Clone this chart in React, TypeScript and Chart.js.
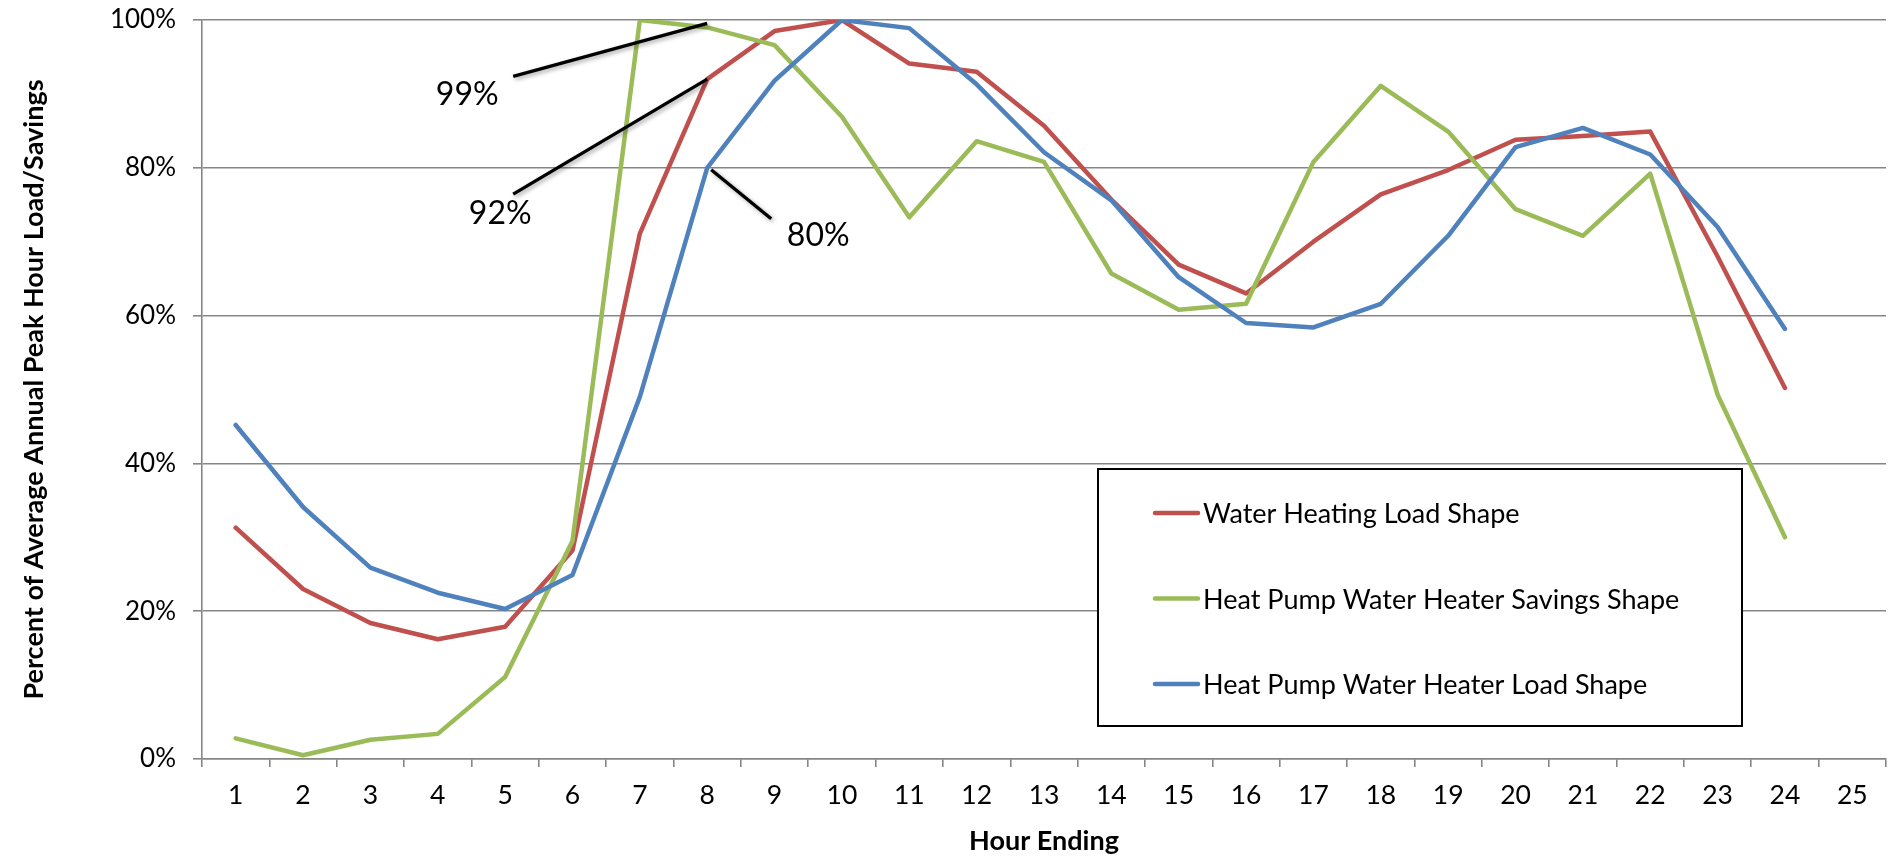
import React, { useEffect, useRef } from 'react';
import { Chart, registerables } from 'chart.js';

Chart.register(...registerables);

// ---------- data ----------
const HOURS = ['1', '2', '3', '4', '5', '6', '7', '8', '9', '10', '11', '12', '13', '14', '15', '16', '17', '18', '19', '20', '21', '22', '23', '24', '25'];

const WATER_HEATING_LOAD = [31.3, 23.0, 18.4, 16.2, 17.9, 28.2, 71.1, 92.0, 98.5, 100, 94.1, 93.0, 85.7, 75.7, 66.9, 63.0, 70.0, 76.4, 79.7, 83.8, 84.3, 84.9, 68.0, 50.2];
const HPWH_SAVINGS = [2.8, 0.5, 2.6, 3.4, 11.1, 29.5, 100, 99.0, 96.6, 86.9, 73.3, 83.6, 80.8, 65.7, 60.8, 61.6, 80.8, 91.1, 84.9, 74.4, 70.8, 79.2, 49.3, 30.0];
const HPWH_LOAD = [45.2, 34.1, 25.9, 22.5, 20.3, 24.9, 49.0, 80.0, 91.8, 100, 98.9, 91.3, 82.1, 75.6, 65.2, 59.0, 58.4, 61.6, 70.8, 82.8, 85.4, 81.8, 72.0, 58.2];

const SERIES_LABELS = ['Water Heating Load Shape', 'Heat Pump Water Heater Savings Shape', 'Heat Pump Water Heater Load Shape'];
const SERIES_COLORS = ['#C0504D', '#9BBB59', '#4F81BD'];

const Y_MIN = 0;
const Y_MAX = 100;
const Y_STEP = 20;

// callouts: which point they point at (dataset, index)
const CALLOUT_DATASET = [1, 0, 2];
const CALLOUT_INDEX = [7, 7, 7];

// ---------- styling ----------
const FONT = 'Lato, "Open Sans", sans-serif';
const GRID = '#868686';

// callout geometry (pixel offsets from the anchored point)
const CALLOUT_STYLE = [
  { start: [0, -4], end: [-194, 49], label: [-240, 66] },
  { start: [0, 0], end: [-194, 115], label: [-207, 134] },
  { start: [4, 2], end: [64, 51], label: [111, 67] },
];

const LEGEND_BOX = { left: 1098, top: 469, right: 1742, bottom: 726, firstRow: 44, rowGap: 85.5, sample0: 1155, sample1: 1198, textX: 1203 };

const calloutPlugin = {
  id: 'callouts',
  afterDatasetsDraw(chart: any) {
    const ctx = chart.ctx;
    ctx.save();
    CALLOUT_DATASET.forEach((ds, i) => {
      const meta = chart.getDatasetMeta(ds);
      const idx = CALLOUT_INDEX[i];
      const pt = meta.data[idx];
      if (!pt) return;
      const st = CALLOUT_STYLE[i];
      const value = chart.data.datasets[ds].data[idx] as number;
      ctx.save();
      ctx.shadowColor = 'rgba(0,0,0,0.35)';
      ctx.shadowBlur = 4;
      ctx.shadowOffsetX = 2;
      ctx.shadowOffsetY = 2;
      ctx.strokeStyle = '#000';
      ctx.lineWidth = 3.4;
      ctx.beginPath();
      ctx.moveTo(pt.x + st.start[0], pt.y + st.start[1]);
      ctx.lineTo(pt.x + st.end[0], pt.y + st.end[1]);
      ctx.stroke();
      ctx.restore();
      ctx.fillStyle = '#000';
      ctx.font = `32px ${FONT}`;
      ctx.textAlign = 'center';
      ctx.textBaseline = 'middle';
      ctx.fillText(`${Math.round(value)}%`, pt.x + st.label[0], pt.y + st.label[1] + 1);
    });
    ctx.restore();
  },
};

const boxLegendPlugin = {
  id: 'boxLegend',
  afterDatasetsDraw(chart: any) {
    const ctx = chart.ctx;
    const b = LEGEND_BOX;
    ctx.save();
    ctx.fillStyle = '#fff';
    ctx.fillRect(b.left, b.top, b.right - b.left, b.bottom - b.top);
    ctx.strokeStyle = '#000';
    ctx.lineWidth = 2;
    ctx.strokeRect(b.left, b.top, b.right - b.left, b.bottom - b.top);
    chart.data.datasets.forEach((ds: any, i: number) => {
      const y = b.top + b.firstRow + i * b.rowGap;
      ctx.strokeStyle = ds.borderColor;
      ctx.lineWidth = 4.5;
      ctx.lineCap = 'round';
      ctx.beginPath();
      ctx.moveTo(b.sample0, y);
      ctx.lineTo(b.sample1, y);
      ctx.stroke();
      ctx.fillStyle = '#000';
      ctx.font = `27px ${FONT}`;
      ctx.textAlign = 'left';
      ctx.textBaseline = 'middle';
      ctx.fillText(ds.label, b.textX, y + 1.5);
    });
    ctx.restore();
  },
};

export default function App() {
  const ref = useRef<HTMLCanvasElement>(null);
  useEffect(() => {
    document.body.style.margin = '0';
    const datasets = [WATER_HEATING_LOAD, HPWH_SAVINGS, HPWH_LOAD].map((d, i) => ({
      label: SERIES_LABELS[i],
      data: d,
      borderColor: SERIES_COLORS[i],
      backgroundColor: SERIES_COLORS[i],
      borderWidth: 4.5,
      pointRadius: 0,
      tension: 0,
      fill: false,
      borderJoinStyle: 'round' as const,
      borderCapStyle: 'round' as const,
      order: 2 - i,
    }));
    const chart = new Chart(ref.current!, {
      type: 'line',
      data: { labels: HOURS, datasets },
      options: {
        animation: false,
        responsive: false,
        maintainAspectRatio: false,
        layout: { padding: { top: 20, right: 12, left: 0, bottom: 0 } },
        plugins: { legend: { display: false }, tooltip: { enabled: false } },
        scales: {
          x: {
            type: 'category',
            offset: true,
            grid: { offset: true, drawOnChartArea: false, drawTicks: true, tickLength: 8, color: GRID, lineWidth: 1.6 },
            border: { display: true, color: GRID, width: 1.6 },
            ticks: { color: '#000', font: { family: FONT, size: 26.5 }, padding: 13, maxRotation: 0, autoSkip: false },
            title: { display: true, text: 'Hour Ending', color: '#000', font: { family: FONT, size: 27, weight: 'bold' }, padding: { top: 0, bottom: 0 } },
            afterFit: (s: any) => { s.height = 98; s.paddingLeft = 0; s.paddingRight = 0; },
          },
          y: {
            min: Y_MIN,
            max: Y_MAX,
            grid: { color: GRID, lineWidth: 1.6, tickLength: 9 },
            border: { display: true, color: GRID, width: 1.6 },
            ticks: { stepSize: Y_STEP, color: '#000', font: { family: FONT, size: 26 }, padding: 17, callback: (v: any) => `${v}%` },
            title: { display: true, text: 'Percent of Average Annual Peak Hour Load/Savings', color: '#000', font: { family: FONT, size: 27, weight: 'bold' }, padding: { top: 18, bottom: 0 } },
            afterFit: (s: any) => { s.width = 202; s.paddingTop = 0; s.paddingBottom = 0; },
          },
        },
      },
      plugins: [boxLegendPlugin, calloutPlugin],
    });
    return () => chart.destroy();
  }, []);
  return (
    <div style={{ width: 1898, height: 857 }}>
      <canvas ref={ref} width={1898} height={857} style={{ width: 1898, height: 857, display: 'block' }} />
    </div>
  );
}
